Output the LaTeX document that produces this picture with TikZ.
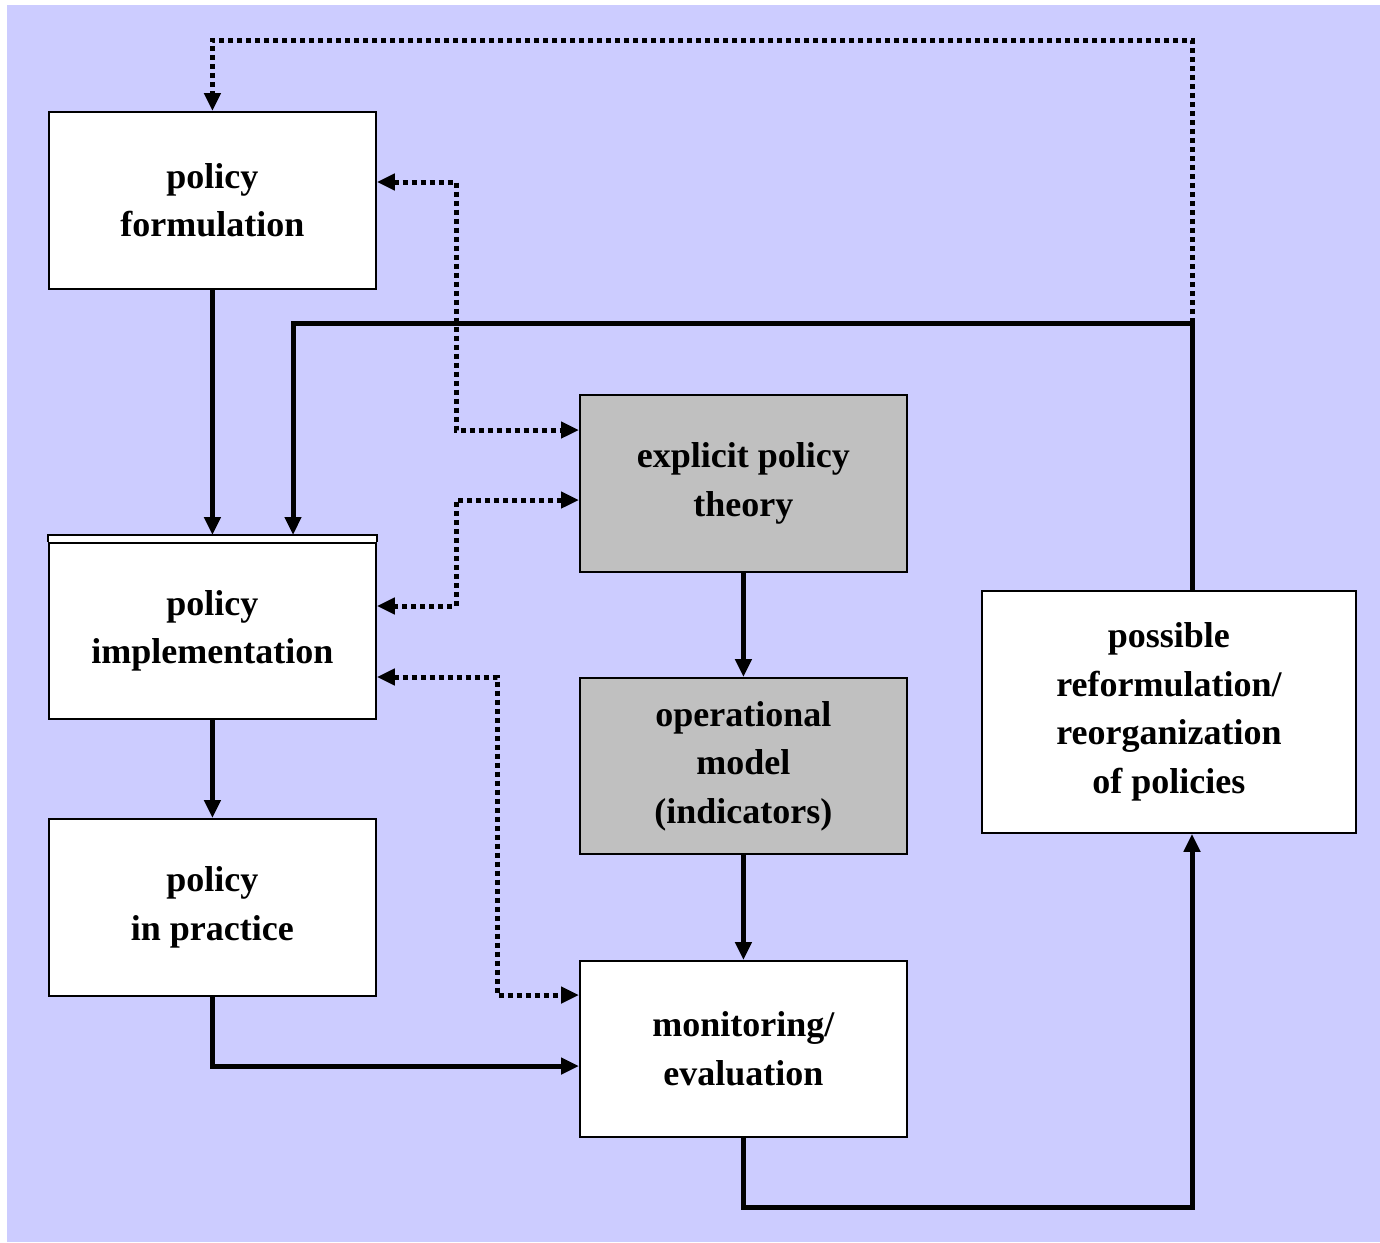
\documentclass[tikz,border=0pt]{standalone}
\usepackage{fontspec}
\setmainfont{Liberation Serif}
\usetikzlibrary{arrows.meta}
\definecolor{bgc}{HTML}{CCCCFF}
\definecolor{grc}{HTML}{C0C0C0}
\begin{document}
\begin{tikzpicture}[x=1pt,y=-1pt,
  box/.style={draw, line width=1.8pt, fill=white, minimum width=327pt, minimum height=177pt,
    inner sep=0pt, align=center, anchor=north west, font=\fontsize{36}{48.5}\selectfont\bfseries},
  graybox/.style={box, fill=grc},
  tip/.tip={Triangle[length=18pt,width=16pt]},
  conn/.style={line width=5pt, -tip},
  dotc/.style={line width=5pt, dash pattern=on 5pt off 4pt, tip-tip},
  dotone/.style={line width=5pt, dash pattern=on 5pt off 4pt, -tip}
]
\useasboundingbox (0,0) rectangle (1380,1242);
\fill[white] (0,0) rectangle (1380,1242);
\fill[bgc] (7,5) rectangle (1380,1242);

\node[box] (form) at (48,111) {policy\\formulation};
\node[box, minimum height=176pt] (impl) at (48,542) {policy\\implementation};
\coordinate (itop) at (211,535);
\draw[line width=1.8pt, fill=white] (impl.north west) -- (impl.north west |- itop) -- (impl.north east |- itop) -- (impl.north east);
\node[box] (prac) at (48,818) {policy\\in practice};
\node[graybox] (theory) at (579,394) {explicit policy\\theory};
\node[graybox, minimum height=176pt] (model) at (579,677) {operational\\model\\(indicators)};
\node[box, minimum height=176pt] (mon) at (579,960) {monitoring/\\evaluation};
\node[box, minimum width=374pt, minimum height=242pt] (reform) at (981,590) {possible\\reformulation/\\reorganization\\of policies};

% junction coordinates
\coordinate (j1) at (1192,323);
\coordinate (j2) at (293,323);
\coordinate (t1) at (1192,40);
\coordinate (d1) at (456,182);
\coordinate (d2) at (456,430);
\coordinate (d3) at (456,500);
\coordinate (d4) at (456,606);
\coordinate (d5) at (497,677);
\coordinate (d6) at (497,995);
\coordinate (p1) at (211,1066);
\coordinate (m1) at (742,1207);
\coordinate (m2) at (1192,1207);

% solid connectors
\draw[conn] (form.south) -- (form.south |- itop);
\draw[conn] (reform.north -| j1) -- (j1) -- (j2) -- (j2 |- itop);
\draw[conn] (impl.south) -- (prac.north);
\draw[conn] (prac.south) -- (prac.south |- p1) -- (mon.west |- p1);
\draw[conn] (theory.south) -- (model.north);
\draw[conn] (model.south) -- (mon.north);
\draw[conn] (mon.south) -- (mon.south |- m1) -- (m2) -- (reform.south -| m2);

% dotted connectors
\draw[dotone] (j1) -- (t1) -| (form.north);
\draw[dotc] (form.east |- d1) -- (d1) -- (d2) -- (theory.west |- d2);
\draw[dotc] (theory.west |- d3) -- (d3) -- (d4) -- (impl.east |- d4);
\draw[dotc] (impl.east |- d5) -- (d5) -- (d6) -- (mon.west |- d6);
\end{tikzpicture}
\end{document}
